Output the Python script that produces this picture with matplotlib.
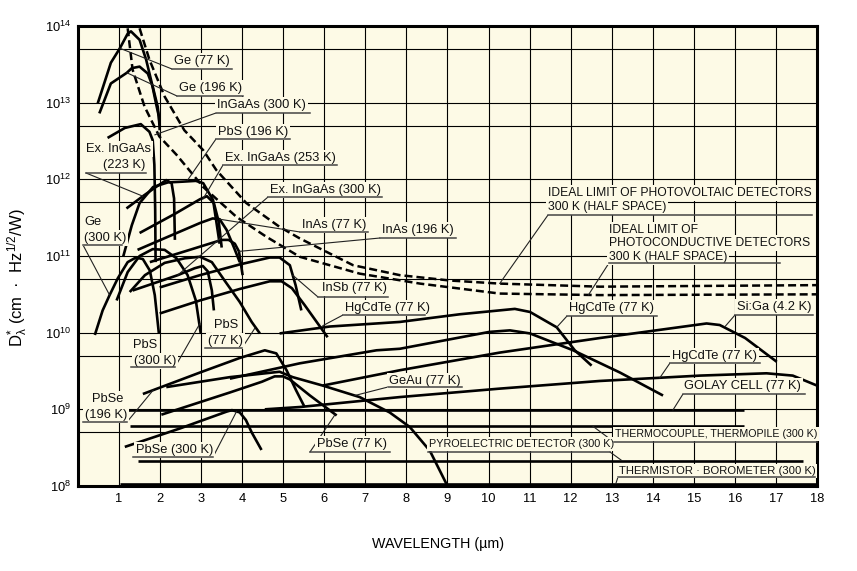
#!/usr/bin/env python3
"""Spectral D* of IR detectors vs wavelength (log scale), with callout labels."""

import numpy as np
import matplotlib
matplotlib.use("Agg")
import matplotlib.pyplot as plt
import matplotlib.transforms as mtransforms
from matplotlib.ticker import FixedLocator, NullFormatter

plt.rcParams['font.family'] = ['Liberation Sans', 'DejaVu Sans']
plt.rcParams['mathtext.default'] = 'regular'

BG = '#fdfae6'
SANS = ['Liberation Sans', 'DejaVu Sans']

# ── curves: wavelength (µm), log10 of D* (cm·Hz^1/2/W) ──────────────────
ge77_wl = [0.48, 0.80, 1.02, 1.21, 1.29, 1.50, 1.66, 1.80, 1.90, 1.97, 1.99]
ge77_lg = [12.99, 13.52, 13.71, 13.90, 13.93, 13.82, 13.56, 13.25, 12.99, 12.82, 12.64]

ge196_wl = [0.52, 0.80, 1.19, 1.31, 1.50, 1.70, 1.82, 1.94, 1.99]
ge196_lg = [12.86, 13.25, 13.39, 13.45, 13.47, 13.38, 13.21, 12.95, 12.71]

ingaas300_wl = [0.72, 1.14, 1.53, 1.74, 1.82, 1.86, 1.88, 1.89]
ingaas300_lg = [12.54, 12.67, 12.72, 12.62, 12.51, 12.19, 11.60, 10.92]

exingaas223_wl = [1.18, 1.58, 1.87, 2.15, 2.28, 2.34, 2.36]
exingaas223_lg = [11.62, 11.78, 11.89, 11.99, 11.95, 11.75, 11.21]

exingaas253_wl = [1.50, 2.36, 2.97, 3.14, 3.31, 3.43, 3.50]
exingaas253_lg = [11.30, 11.55, 11.74, 11.78, 11.69, 11.44, 11.11]

exingaas300_wl = [1.33, 1.99, 2.43, 2.84, 3.04, 3.16, 3.26, 3.31]
exingaas300_lg = [10.55, 10.67, 10.75, 10.84, 10.87, 10.80, 10.55, 10.29]

pbs196_wl = [1.10, 1.31, 1.50, 1.83, 2.19, 2.56, 2.87, 3.05, 3.29, 3.45]
pbs196_lg = [10.99, 11.40, 11.69, 11.90, 11.96, 11.97, 11.98, 11.95, 11.73, 11.16]

pbs300_wl = [0.94, 1.21, 1.50, 1.82, 2.11, 2.40, 2.67, 2.87, 2.99]
pbs300_lg = [10.42, 10.79, 11.00, 11.09, 11.08, 10.97, 10.75, 10.42, 9.99]

pbs77_wl = [1.26, 1.63, 2.11, 2.60, 2.97, 3.26, 3.57, 3.94, 4.23, 4.43]
pbs77_lg = [10.53, 10.75, 10.91, 10.97, 10.99, 10.92, 10.68, 10.40, 10.14, 9.99]

ge300_wl = [0.41, 0.60, 0.77, 0.97, 1.21, 1.41, 1.58, 1.75, 1.87, 1.97]
ge300_lg = [9.97, 10.29, 10.49, 10.71, 10.92, 10.98, 10.96, 10.81, 10.49, 9.99]

inas77_wl = [1.45, 2.23, 2.97, 3.28, 3.45, 3.62, 3.80, 3.94]
inas77_lg = [11.08, 11.26, 11.43, 11.49, 11.48, 11.34, 11.11, 10.92]

inas196_wl = [1.75, 2.72, 3.50, 3.67, 3.82, 3.92, 4.01]
inas196_lg = [10.92, 11.08, 11.21, 11.21, 11.16, 11.06, 10.75]

insb77_wl = [1.99, 2.97, 3.94, 4.67, 4.91, 5.16, 5.30, 5.44]
insb77_lg = [10.59, 10.75, 10.89, 10.98, 10.98, 10.88, 10.62, 10.29]

insb_b_wl = [1.99, 2.97, 3.94, 4.67, 4.96, 5.21, 5.52, 6.08]
insb_b_lg = [10.25, 10.42, 10.57, 10.67, 10.67, 10.58, 10.36, 9.94]

hgcdte_a_wl = [4.91, 6.13, 7.84, 9.30, 10.64, 11.01, 11.66, 12.10, 12.51]
hgcdte_a_lg = [9.99, 10.08, 10.14, 10.24, 10.31, 10.27, 10.07, 9.77, 9.57]

hgcdte_b_wl = [3.70, 5.40, 7.27, 7.84, 10.02, 10.52, 11.01, 12.06, 13.20, 14.25]
hgcdte_b_lg = [9.40, 9.60, 9.77, 9.79, 10.01, 10.03, 9.99, 9.77, 9.48, 9.18]

hgcdte_c_wl = [4.55, 5.40, 7.84, 10.27, 12.71, 15.15, 16.77, 17.41, 18.0]
hgcdte_c_lg = [9.00, 9.03, 9.16, 9.27, 9.37, 9.44, 9.47, 9.44, 9.31]

siga_wl = [5.96, 7.84, 10.27, 12.71, 15.31, 15.63, 16.25, 17.02]
siga_lg = [9.31, 9.51, 9.74, 9.93, 10.12, 10.10, 9.93, 9.62]

geau_wl = [2.15, 3.70, 4.91, 5.23, 5.96, 6.86, 7.59, 8.08, 8.57, 9.00]
geau_lg = [9.29, 9.42, 9.49, 9.42, 9.31, 9.16, 8.96, 8.77, 8.46, 8.00]

pbse77_wl = [2.03, 3.70, 4.48, 4.79, 4.99, 5.16, 5.65, 6.30]
pbse77_lg = [8.93, 9.22, 9.36, 9.43, 9.43, 9.39, 9.18, 8.92]

pbse196_wl = [1.58, 2.97, 3.94, 4.55, 4.83, 5.08, 5.31, 5.52]
pbse196_lg = [9.20, 9.48, 9.67, 9.77, 9.73, 9.51, 9.25, 9.03]

pbse300_wl = [1.14, 2.48, 3.62, 3.75, 3.94, 4.09, 4.23, 4.47]
pbse300_lg = [8.51, 8.75, 8.97, 8.99, 8.96, 8.86, 8.70, 8.47]

golay_wl, golay_lg = [1.22, 16.23], [8.99, 8.99]
thermocouple_wl, thermocouple_lg = [1.26, 16.23], [8.78, 8.78]
pyro_wl, pyro_lg = [1.46, 17.67], [8.33, 8.33]
thermistor_wl, thermistor_lg = [1.02, 18.0], [8.03, 8.03]

# ideal background-limited curves (dashed)
pv_wl = [1.50, 1.74, 2.11, 2.59, 3.05, 3.37, 4.10, 4.91, 5.40, 6.70, 7.84, 9.06, 10.27, 12.71, 18.0]
pv_lg = [13.97, 13.56, 13.08, 12.64, 12.38, 12.12, 11.69, 11.38, 11.23, 10.88, 10.75, 10.68, 10.64, 10.60, 10.62]
pc_wl = [1.21, 1.33, 1.62, 1.98, 2.40, 3.05, 3.86, 4.59, 5.40, 6.86, 8.33, 10.27, 12.71, 18.0]
pc_lg = [13.97, 13.43, 12.95, 12.56, 12.32, 11.90, 11.51, 11.25, 10.99, 10.77, 10.64, 10.51, 10.49, 10.50]

solid = [
    (ge77_wl, ge77_lg), (ge196_wl, ge196_lg), (ingaas300_wl, ingaas300_lg),
    (exingaas223_wl, exingaas223_lg), (exingaas253_wl, exingaas253_lg),
    (exingaas300_wl, exingaas300_lg), (pbs196_wl, pbs196_lg), (pbs300_wl, pbs300_lg),
    (pbs77_wl, pbs77_lg), (ge300_wl, ge300_lg), (inas77_wl, inas77_lg),
    (inas196_wl, inas196_lg), (insb77_wl, insb77_lg), (insb_b_wl, insb_b_lg),
    (hgcdte_a_wl, hgcdte_a_lg), (hgcdte_b_wl, hgcdte_b_lg), (hgcdte_c_wl, hgcdte_c_lg),
    (siga_wl, siga_lg), (geau_wl, geau_lg), (pbse77_wl, pbse77_lg),
    (pbse196_wl, pbse196_lg), (pbse300_wl, pbse300_lg),
    (golay_wl, golay_lg), (thermocouple_wl, thermocouple_lg),
    (pyro_wl, pyro_lg), (thermistor_wl, thermistor_lg),
]
dashed = [(pv_wl, pv_lg), (pc_wl, pc_lg)]

# ── callouts: text lines (txt, x, y px), underline (x0, x1, y px),
#    pointer tip (wl, log D*), pointer start side, font size ──
callouts = [
    ([("Ge (77 K)", 174, 61)], (172, 232, 69), (1.02, 13.71), 'L', 9.3),
    ([("Ge (196 K)", 179, 88)], (177, 243, 96), (1.19, 13.39), 'L', 9.3),
    ([("InGaAs (300 K)", 217, 105)], (216, 310, 113), (1.87, 12.58), 'L', 9.3),
    ([("PbS (196 K)", 218, 132)], (216, 290, 139), (2.67, 11.99), 'L', 9.3),
    ([("Ex. InGaAs (253 K)", 225, 158)], (223, 337, 165), (3.04, 11.74), 'L', 9.3),
    ([("Ex. InGaAs (300 K)", 270, 190)], (268, 382, 197), (2.43, 10.75), 'L', 9.3),
    ([("InAs (77 K)", 302, 225)], (300, 368, 232), (3.45, 11.48), 'L', 9.3),
    ([("InAs (196 K)", 382, 230)], (380, 456, 238), (3.92, 11.06), 'L', 9.3),
    ([("InSb (77 K)", 322, 288)], (318, 388, 297), (5.23, 10.75), 'L', 9.3),
    ([("HgCdTe (77 K)", 345, 308)], (343, 425, 315), (5.96, 10.09), 'L', 9.3),
    ([("Ex. InGaAs", 86, 149), ("(223 K)", 103, 165)], (86, 146, 173), (1.58, 11.78), 'L', 9.3),
    ([("Ge", 84, 222), ("(300 K)", 84, 238)], (83, 122, 245), (0.77, 10.49), 'L', 9.3),
    ([("PbS", 133, 345), ("(300 K)", 134, 361)], (131, 175, 367), (2.97, 10.12), 'R', 9.3),
    ([("PbS", 214, 325), ("(77 K)", 208, 341)], (205, 242, 348), (4.31, 10.06), 'R', 9.3),
    ([("PbSe", 92, 399), ("(196 K)", 85, 415)], (83, 127, 422), (1.83, 9.25), 'R', 9.3),
    ([("PbSe (300 K)", 136, 450)], (133, 213, 457), (3.86, 8.97), 'R', 9.3),
    ([("PbSe (77 K)", 317, 444)], (310, 390, 452), (6.26, 8.93), 'L', 9.3),
    ([("GeAu (77 K)", 389, 381)], (388, 462, 387), (6.74, 9.18), 'L', 9.3),
    ([("PYROELECTRIC DETECTOR (300 K)", 429, 444)], (428, 610, 452), (13.25, 8.33), 'R', 7.8),
    ([("THERMOCOUPLE, THERMOPILE (300 K)", 615, 434)], (614, 817, 442), (12.54, 8.78), 'L', 7.7),
    ([("THERMISTOR · BOROMETER (300 K)", 619, 471)], (618, 815, 477), (13.10, 8.03), 'L', 8.1),
    ([("GOLAY CELL (77 K)", 684, 386)], (683, 805, 394), (14.49, 8.99), 'L', 9.3),
    ([("HgCdTe (77 K)", 672, 356)], (670, 760, 363), (14.17, 9.41), 'L', 9.3),
    ([("HgCdTe (77 K)", 569, 308)], (567, 657, 316), (11.66, 10.07), 'L', 9.3),
    ([("Si:Ga (4.2 K)", 737, 307)], (735, 813, 315), (15.76, 10.08), 'L', 9.3),
    ([("IDEAL LIMIT OF PHOTOVOLTAIC DETECTORS", 548, 193),
      ("300 K (HALF SPACE)", 548, 207)], (548, 812, 215), (10.27, 10.64), 'L', 8.75),
    ([("IDEAL LIMIT OF", 609, 230), ("PHOTOCONDUCTIVE DETECTORS", 609, 243),
      ("300 K (HALF SPACE)", 609, 257)], (609, 780, 263), (12.43, 10.49), 'L', 8.75),
]

# ── figure ───────────────────────────────────────────────────────────────
W, H = 857, 571
fig = plt.figure(figsize=(W / 100, H / 100), dpi=100)
ax = fig.add_axes([78 / W, 1 - 486 / H, (817 - 78) / W, (486 - 26) / H])
ax.set_facecolor(BG)
px = mtransforms.Affine2D().scale(1 / W, -1 / H).translate(0, 1) + fig.transFigure

ax.set_yscale('log')
ax.set_xlim(0, 18)
ax.set_ylim(1e8, 1e14)

ax.set_xticks(range(1, 19))
ax.set_xticklabels([str(i) for i in range(1, 19)], fontsize=9.3)
ax.yaxis.set_major_locator(FixedLocator([10.0 ** k for k in range(8, 15)]))
ax.set_yticklabels([r'$10^{%d}$' % k for k in range(8, 15)], fontsize=9.3)
ax.yaxis.set_minor_locator(FixedLocator([5 * 10.0 ** k for k in range(8, 14)]))
ax.yaxis.set_minor_formatter(NullFormatter())
ax.tick_params(which='both', length=0, pad=5)
ax.grid(True, which='both', color='black', lw=0.8)
ax.set_axisbelow(True)
for sp in ax.spines.values():
    sp.set_linewidth(2.2)

for wl, lg in solid:
    ax.plot(wl, 10.0 ** np.array(lg), color='black', lw=1.9, zorder=2,
            solid_capstyle='butt')
for wl, lg in dashed:
    ax.plot(wl, 10.0 ** np.array(lg), color='black', lw=1.8, zorder=2,
            dashes=(3.2, 1.6))

for lines, (u0, u1, uy), (twl, tlg), side, size in callouts:
    for txt, tx, ty in lines:
        ax.text(tx, ty, txt, transform=px, ha='left', va='center',
                fontsize=size, family=SANS, color='#111111', zorder=4,
                bbox=dict(fc=BG, ec='none', pad=1.2))
    ax.plot([u0, u1], [uy, uy], transform=px, color='#444444', lw=1.1,
            zorder=4, clip_on=False)
    sx = u0 if side == 'L' else u1
    ax.annotate('', xy=(twl, 10.0 ** tlg), xycoords='data',
                xytext=(sx, uy), textcoords=px, zorder=3,
                arrowprops=dict(arrowstyle='-', lw=0.8, color='#222222',
                                shrinkA=0, shrinkB=0))

ax.set_xlabel('WAVELENGTH (µm)', fontsize=10.3)
ax.xaxis.set_label_coords((438 - 78) / 739, (486 - 537) / 460)
ax.set_ylabel(r'$D_\lambda^{*}$ (cm  ·  Hz$^{1/2}$/W)', fontsize=12)
ax.yaxis.set_label_coords((30 - 78) / 739, (486 - 278) / 460)

fig.savefig('out.png', dpi=100, facecolor='white')
